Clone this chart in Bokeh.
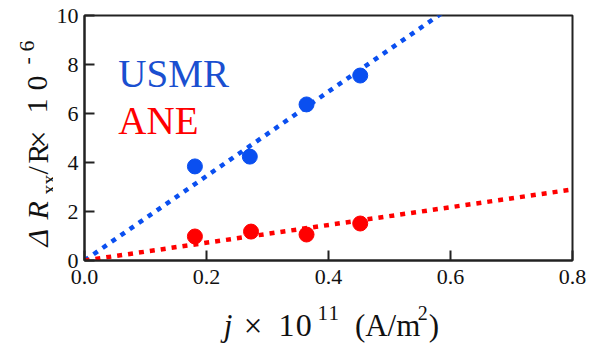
import math
from bokeh.plotting import figure
from bokeh.models import Range1d, FixedTicker, Label, PrintfTickFormatter
from bokeh.layouts import row, column
from bokeh.embed import file_html
from bokeh.resources import INLINE

# ---- data ----
usmr_j = [0.181, 0.271, 0.364, 0.452]
usmr_r = [3.84, 4.24, 6.37, 7.55]
ane_j = [0.181, 0.273, 0.364, 0.452]
ane_r = [0.98, 1.18, 1.06, 1.51]
usmr_fit_j = [0.0, 0.60]
usmr_fit_r = [0.0, 10.34]
ane_fit_j = [0.0, 0.80]
ane_fit_r = [0.0, 2.90]
x_ticks = [0.0, 0.2, 0.4, 0.6, 0.8]
y_ticks = [0, 2, 4, 6, 8, 10]

BLUE = "#0a4ff0"
BLUE_TXT = "#1a4fd0"
RED = "#ff0000"
INK = "#111111"
FONT = "Liberation Serif"

W, H = 589, 345
STRIP_W = 53           # left strip holding the rotated y label
MAIN_H = 296           # main figure height (x-label strip below)
L, R, T, B = 82, 572, 15, 260
X0, X1, Y0, Y1 = 0.0, 0.8, 0.0, 10.0

# ---------------- main plot ----------------
p = figure(width=W - STRIP_W, height=MAIN_H, output_backend="svg", toolbar_location=None,
           x_range=Range1d(X0, X1), y_range=Range1d(Y0, Y1),
           min_border_left=L - STRIP_W, min_border_right=W - R,
           min_border_top=T, min_border_bottom=MAIN_H - B)
p.background_fill_color = "white"
p.border_fill_color = "white"
p.grid.visible = False
p.outline_line_color = "#222222"
p.outline_line_width = 2

p.axis.axis_line_color = "#222222"
p.axis.axis_line_width = 2
p.axis.major_tick_in = 10
p.axis.major_tick_out = 0
p.axis.major_tick_line_color = "#222222"
p.axis.major_tick_line_width = 2
p.axis.minor_tick_line_color = None
p.axis.major_label_text_font = FONT
p.axis.major_label_text_font_size = "22px"
p.axis.major_label_text_color = INK

p.xaxis.ticker = FixedTicker(ticks=x_ticks)
p.xaxis.formatter = PrintfTickFormatter(format="%.1f")
p.xaxis.major_label_standoff = 9
p.yaxis.ticker = FixedTicker(ticks=y_ticks)
p.yaxis.formatter = PrintfTickFormatter(format="%d")
p.yaxis.major_label_standoff = 6

# fit lines
p.line(usmr_fit_j, usmr_fit_r, line_color=BLUE, line_width=4.5, line_dash="5 6", line_cap="butt")
p.line(ane_fit_j, ane_fit_r, line_color=RED, line_width=4.5, line_dash="5 6", line_cap="butt")

# points
p.scatter(usmr_j, usmr_r, size=15, fill_color=BLUE, line_color=BLUE)
p.scatter(ane_j, ane_r, size=15, fill_color=RED, line_color=RED)


def dx(px):
    return X0 + (px - L) / (R - L) * (X1 - X0)


def dy(py):
    return Y0 + (B - py) / (B - T) * (Y1 - Y0)


def put(fig, text, x, y, size, style="normal", color=INK, angle=0.0):
    fig.add_layout(Label(x=x, y=y, text=text, text_font=FONT,
                         text_font_size=f"{size}px", text_font_style=style,
                         text_color=color, text_align="left",
                         text_baseline="alphabetic", angle=angle))


# legend texts
put(p, "USMR", dx(116), dy(73), 39, color=BLUE_TXT)
put(p, "ANE", dx(116), dy(120), 39, color=RED)


class Strip:
    """A blank figure whose frame fills it; positions given in page pixels."""

    def __init__(self, w, h, x_off, y_off):
        self.w, self.h, self.x_off, self.y_off = w, h, x_off, y_off
        f = figure(width=w, height=h, output_backend="svg", toolbar_location=None,
                   x_range=Range1d(0, w), y_range=Range1d(0, h), min_border=0)
        f.axis.visible = False
        f.grid.visible = False
        f.outline_line_color = None
        f.background_fill_color = "white"
        f.border_fill_color = "white"
        self.fig = f

    def put(self, text, px, py, size, style="normal", angle=0.0):
        put(self.fig, text, px - self.x_off, self.y_off + self.h - py, size, style, INK, angle)


# ---------------- x-axis label strip: j × 10^11 (A/m^2) ----------------
xl = Strip(W - STRIP_W, H - MAIN_H, STRIP_W, MAIN_H)
xl.put("j", 206, 325, 31, style="italic")
xl.put("\u00d7", 228, 325, 33)
xl.put("1", 266, 325, 32)
xl.put("0", 285, 325, 32)
xl.put("1", 309, 312, 21)
xl.put("1", 321, 312, 21)
xl.put("(A/m", 350, 325, 31)
xl.put("2", 419, 312, 20)
xl.put(")", 431, 325, 31)

# ---------------- y-axis label strip (rotated): ΔR_xx/R × 10^-6 ----------------
yl = Strip(STRIP_W, H, 0, 0)
A = math.pi / 2
yl.put("\u0394", 37, 246, 30, style="italic", angle=A)
yl.put("R", 37, 219, 30, style="italic", angle=A)
yl.put("xx", 48, 194, 20, angle=A)
yl.put("/", 37, 174, 30, angle=A)
yl.put("R", 37, 163, 30, angle=A)
yl.put("\u00d7", 37, 148, 32, angle=A)
yl.put("1", 37, 113, 30, angle=A)
yl.put("0", 37, 90, 30, angle=A)
yl.put("-", 26, 64, 22, angle=A)
yl.put("6", 26, 51, 22, angle=A)

layout = row(yl.fig, column(p, xl.fig, spacing=0), spacing=0)
open("out.html", "w").write(file_html(layout, INLINE))
